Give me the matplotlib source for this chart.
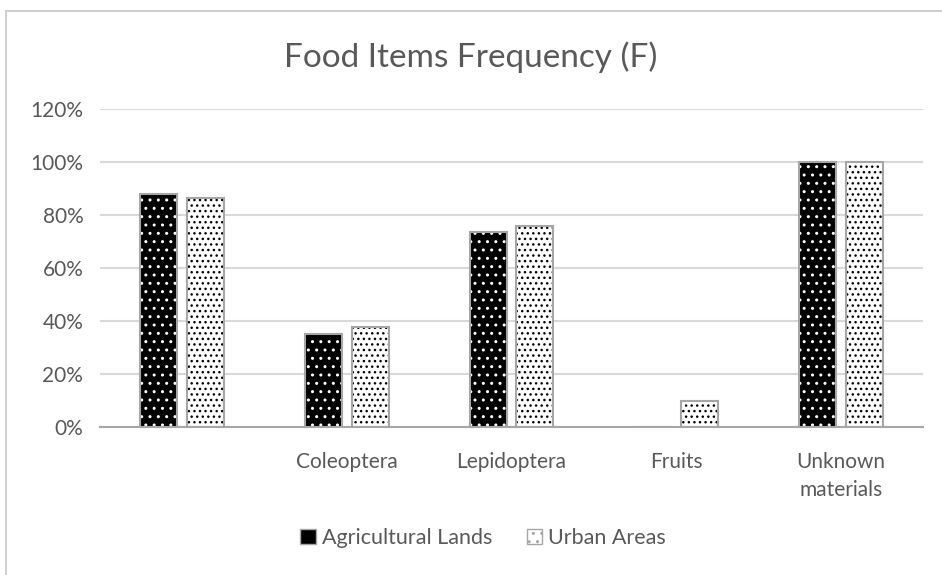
import matplotlib
matplotlib.use("Agg")
import matplotlib.pyplot as plt
from matplotlib.patches import Patch, Rectangle
import numpy as np

plt.rcParams['font.family'] = ['Lato', 'DejaVu Sans']

categories = ["", "Coleoptera", "Lepidoptera", "Fruits", "Unknown\nmaterials"]
agri = [88.0, 35.0, 73.5, 0.0, 100.0]
urban = [86.3, 37.8, 75.8, 10.0, 100.0]
yticks = [0, 20, 40, 60, 80, 100, 120]
series_names = ["Agricultural Lands", "Urban Areas"]

txt = "#595959"
fig = plt.figure(figsize=(9.42, 5.75), dpi=100)
fig.patches.append(Rectangle((6/942, -0.1), 1.2, 1 - 11/575 + 0.1, transform=fig.transFigure,
                             fill=False, edgecolor="#d0d0d0", linewidth=1.5, zorder=0))
ax = fig.add_axes([100/942, 1 - 427/575, 823/942, 318/575])

x = np.arange(len(categories))
w = 0.225
off = (w + 0.06) / 2

plt.rcParams['hatch.linewidth'] = 1.0
# Agricultural: black with white dots
ax.bar(x - off, agri, w, color="black", edgecolor="white", hatch="..", linewidth=0, zorder=2)
ax.bar(x - off, agri, w, fill=False, edgecolor="#a6a6a6", linewidth=1.5, zorder=3)
# Urban: white with black dots
ax.bar(x + off, urban, w, color="white", edgecolor="black", hatch="...", linewidth=0, zorder=2)
ax.bar(x + off, urban, w, fill=False, edgecolor="#a6a6a6", linewidth=1.5, zorder=3)

ax.set_xlim(-0.5, len(categories) - 0.5)
ax.set_ylim(0, 120)
ax.set_yticks(yticks)
ax.set_yticklabels([f"{v}%" for v in yticks], color=txt, fontsize=15)
ax.set_xticks(x)
ax.set_xticklabels(categories, color=txt, fontsize=15, linespacing=1.5)
ax.tick_params(length=0, pad=12)
ax.tick_params(axis='x', pad=18)
ax.grid(axis='y', color="#d9d9d9", linewidth=1.5, zorder=0)
ax.set_axisbelow(True)
for s in ["top", "right", "left"]:
    ax.spines[s].set_visible(False)
ax.spines["bottom"].set_color("#a6a6a6")
ax.spines["bottom"].set_linewidth(1.5)
ax.spines["bottom"].set_zorder(4)

fig.text(0.5, 1 - 57/575, "Food Items Frequency (F)", ha="center", va="center", fontsize=24, color=txt)

handles = [Patch(facecolor="black", edgecolor="#a6a6a6", linewidth=1),
           Patch(facecolor="white", edgecolor="#a6a6a6", hatch="..", linewidth=1)]
fig.legend(handles, series_names, loc="center", bbox_to_anchor=(0.513, 1 - 538/575), ncol=2,
           frameon=False, fontsize=15.5, labelcolor=txt, handlelength=0.7, handleheight=0.7,
           handletextpad=0.3, columnspacing=1.6)

fig.savefig("out.png", dpi=100)
